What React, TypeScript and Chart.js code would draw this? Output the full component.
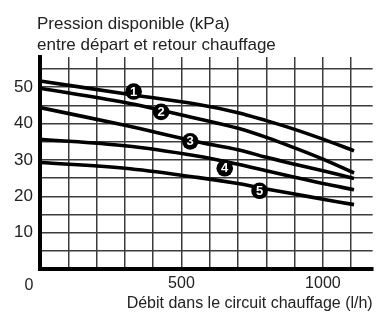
import React, { useEffect, useRef } from 'react';
import { Chart, registerables } from 'chart.js';

Chart.register(...registerables);

// ---- Data ----
const flowValues = [0, 300, 555, 700, 800, 900, 1000, 1110];
const curve1 = [51.7, 48.2, 45.3, 43.0, 40.8, 38.4, 35.7, 32.5];
const curve2 = [49.7, 45.8, 41.4, 38.7, 36.2, 33.3, 30.2, 26.4];
const curve3 = [44.4, 39.5, 35.0, 32.8, 30.7, 28.8, 27.0, 24.9];
const curve4 = [35.7, 33.9, 31.1, 28.8, 27.0, 25.2, 23.5, 21.8];
const curve5 = [29.3, 27.7, 25.2, 23.5, 22.0, 20.6, 19.2, 17.7];

const markerFlow = [331, 428, 531, 653, 776];
const markerPressure = [48.8, 43.2, 35.1, 27.7, 21.5];
const markerLabels = ['1', '2', '3', '4', '5'];

const yTickLabels = [10, 20, 30, 40, 50];
const xTickLabels = [0, 500, 1000];
const titleLines = ['Pression disponible (kPa)', 'entre départ et retour chauffage'];
const xTitle = 'Débit dans le circuit chauffage (l/h)';

const FONT = '"Liberation Sans", Arial, Helvetica, sans-serif';
const TEXT = '#222';
const GRID = '#3c3c3c';

export default function App() {
  const ref = useRef<HTMLCanvasElement | null>(null);

  useEffect(() => {
    if (!ref.current) return;
    const curves = [curve1, curve2, curve3, curve4, curve5];

    const lineSets = curves.map((c, k) => ({
      type: 'line' as const,
      label: 'Courbe ' + (k + 1),
      data: flowValues.map((x, i) => ({ x, y: c[i] })),
      borderColor: '#000',
      borderWidth: 3.6,
      borderCapStyle: 'butt' as const,
      pointRadius: 0,
      fill: false,
      tension: 0.35,
      order: 1,
    }));

    const markerSet = {
      type: 'scatter' as const,
      label: 'Repères',
      data: markerFlow.map((x, i) => ({ x, y: markerPressure[i] })),
      backgroundColor: '#000',
      borderColor: '#000',
      borderWidth: 0,
      pointRadius: 8.3,
      order: -1,
    };

    const overlay = {
      id: 'overlay',
      afterDatasetsDraw(chart: any) {
        const ctx = chart.ctx;
        const idx = chart.data.datasets.length - 1;
        const meta = chart.getDatasetMeta(idx);
        ctx.save();
        ctx.fillStyle = '#fff';
        ctx.font = 'bold 13px ' + FONT;
        ctx.textAlign = 'center';
        ctx.textBaseline = 'middle';
        meta.data.forEach((el: any, i: number) => {
          ctx.fillText(markerLabels[i], el.x, el.y + 0.5);
        });
        ctx.restore();
      },
      afterDraw(chart: any) {
        const ctx = chart.ctx;
        ctx.save();
        ctx.fillStyle = TEXT;
        ctx.font = '17px ' + FONT;
        ctx.textAlign = 'left';
        ctx.textBaseline = 'alphabetic';
        ctx.fillText(titleLines[0], 37, 28.5);
        ctx.fillText(titleLines[1], 37, 50.3);
        const xs = chart.scales.x;
        ctx.font = '16px ' + FONT;
        ctx.textAlign = 'center';
        ctx.fillText(String(xTickLabels[0]), xs.getPixelForValue(xTickLabels[0]) - 11, 289.5);
        ctx.restore();
      },
    };

    const chart = new Chart(ref.current, {
      data: { datasets: [...lineSets, markerSet] as any },
      options: {
        responsive: false,
        animation: false,
        devicePixelRatio: 1,
        layout: { padding: { top: 57, left: 0, right: 0, bottom: 0 } },
        plugins: {
          legend: { display: false },
          tooltip: { enabled: false },
          title: { display: false },
        },
        scales: {
          x: {
            type: 'linear',
            min: 0,
            max: 1176,
            afterFit: (s: any) => {
              s.height = 45;
            },
            ticks: {
              stepSize: 100,
              includeBounds: false,
              autoSkip: false,
              maxRotation: 0,
              padding: 5,
              color: TEXT,
              font: { family: FONT, size: 16 },
              callback: (v: any) => {
                const n = Math.round(Number(v));
                return n !== 0 && xTickLabels.includes(n) ? String(n) : '';
              },
            },
            grid: { color: GRID, lineWidth: 1.5, drawTicks: false },
            border: { display: true, color: '#000', width: 4 },
            title: {
              display: true,
              text: xTitle,
              align: 'end',
              color: TEXT,
              font: { family: FONT, size: 16 },
              padding: { top: 0, bottom: 1 },
            },
          },
          y: {
            type: 'linear',
            min: 0,
            max: 58.3,
            afterFit: (s: any) => {
              s.width = 40;
            },
            ticks: {
              stepSize: 5,
              includeBounds: false,
              autoSkip: false,
              padding: 7,
              color: TEXT,
              font: { family: FONT, size: 17 },
              callback: (v: any) => {
                const n = Math.round(Number(v));
                return yTickLabels.includes(n) ? String(n) : '';
              },
            },
            grid: { color: GRID, lineWidth: 1.5, drawTicks: false },
            border: { display: true, color: '#000', width: 4 },
          },
        },
      } as any,
      plugins: [overlay],
    });

    return () => chart.destroy();
  }, []);

  return (
    <div style={{ position: 'fixed', left: 0, top: 0, width: 381, height: 314, background: '#fff' }}>
      <canvas ref={ref} width={381} height={314} style={{ display: 'block', width: 381, height: 314 }} />
    </div>
  );
}
